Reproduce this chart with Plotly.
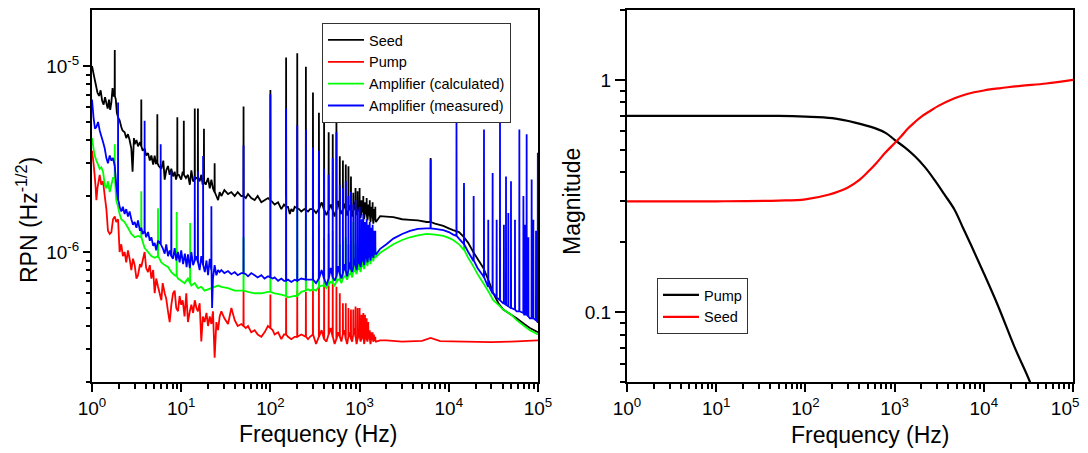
import plotly.graph_objects as go
import numpy as np

# ---------------- LEFT PANEL DATA (frequency in Hz, RPN in units of 1e-6 Hz^-1/2) ----------------
mains_f = [50, 100, 150, 200, 250, 300, 350, 400, 450, 500, 550, 600, 650, 700, 750,
           800, 850, 900, 950, 1000, 1050, 1100, 1150, 1200, 1250, 1300, 1350, 1400, 1450, 1500]
mid_f = [325, 375, 425, 475, 525, 575, 625, 675, 725, 775, 825, 875, 925, 975, 1025,
         1075, 1125, 1175, 1225, 1275, 1325, 1375, 1425, 1475, 1525]

# Seed (black)
seed_f = [1.00, 1.05, 1.10, 1.15, 1.20, 1.25, 1.30, 1.35, 1.40, 1.45, 1.50, 1.55, 1.60, 1.65, 1.70, 1.75,
          1.85, 1.90, 1.96, 2.04, 2.13, 2.20, 2.32, 2.42, 2.53, 2.64, 2.76, 2.85, 2.95, 3.01, 3.15, 3.28,
          3.45, 3.70, 3.89, 4.05, 4.25, 4.45, 4.63, 4.85, 5.04, 5.20, 5.60, 5.99, 6.30, 6.53, 6.80, 7.11,
          7.43, 7.75, 8.10, 8.45, 8.75, 9.40, 10.0, 10.4, 11.3, 11.9, 12.5, 13.0, 13.6, 14.8, 16.1, 16.8,
          17.4, 18.8, 20.0, 20.9, 21.8, 22.7, 24.8, 25.9, 27.0, 28.2, 30.5, 33.5, 36.5, 39.8, 43.0, 47.2,
          53.0, 56.1, 61.0, 66.6, 72.0, 79.1, 86.0, 94.0, 106, 111.6, 122, 132.6, 142, 157.5, 165, 171.7,
          180, 187.1, 210, 222, 240, 264, 278, 1700, 2000,
          2388, 3000, 3672, 4500, 5647, 7000, 8683, 10000, 11200, 13000, 14600, 16500, 18800, 21000,
          24400, 28000, 31500, 36000, 40800, 50000, 57600, 70000, 81000, 100000]
seed_v = [10.0, 8.9, 8.0, 7.2, 6.9, 7.4, 6.5, 6.2, 6.8, 6.3, 5.9, 6.6, 5.8, 6.4, 7.6, 6.9,
          6.6, 5.6, 5.3, 5.1, 4.7, 4.5, 4.4, 4.1, 4.3, 4.0, 3.6, 2.7, 4.1, 3.8, 4.0, 3.7,
          3.9, 3.5, 3.6, 3.3, 3.4, 3.1, 3.3, 2.95, 3.3, 3.0, 2.9, 2.8, 3.1, 2.45, 2.75, 2.9,
          2.6, 2.8, 2.55, 2.7, 2.45, 2.6, 2.45, 2.7, 2.5, 2.6, 2.3, 2.75, 2.4, 2.5, 2.4, 2.6,
          2.3, 2.3, 2.5, 2.2, 2.45, 2.2, 2.0, 1.9, 2.1, 2.0, 2.15, 2.05, 2.1, 2.0, 2.1, 2.0,
          1.95, 2.05, 1.95, 1.9, 2.0, 1.85, 1.9, 1.95, 1.85, 1.8, 1.85, 1.7, 1.8, 1.75, 1.6, 1.7,
          1.65, 1.75, 1.7, 1.65, 1.7, 1.65, 1.7, 1.56, 1.55,
          1.54, 1.50, 1.49, 1.48, 1.45, 1.42, 1.38, 1.34, 1.31, 1.28, 1.21, 1.12, 1.00, 0.92,
          0.82, 0.70, 0.60, 0.53, 0.49, 0.46, 0.44, 0.41, 0.39, 0.37]
seed_mid_v = [1.62, 1.85, 1.58, 1.80, 1.55, 1.88, 1.60, 1.82, 1.57, 1.78, 1.55, 1.85, 1.58, 1.75, 1.52,
              1.82, 1.50, 1.72, 1.48, 1.70, 1.45, 1.68, 1.42, 1.62, 1.45]
seed_mains_lo = [2.0, 1.9, 1.75, 1.72, 1.68, 1.7, 1.7, 1.69, 1.68, 1.68, 1.68, 1.69, 1.7, 1.69, 1.67,
                 1.67, 1.68, 1.68, 1.67, 1.65, 1.64, 1.63, 1.62, 1.6, 1.59, 1.58, 1.57, 1.55, 1.54, 1.5]
seed_mains_hi = [6.05, 7.42, 11.1, 11.7, 9.9, 7.2, 5.6, 5.5, 4.4, 4.3, 5.6, 3.27, 3.1, 2.95, 2.89,
                 2.55, 2.08, 2.21, 2.12, 2.21, 1.9, 2.0, 1.85, 1.95, 1.8, 1.9, 1.75, 1.85, 1.7, 1.75]
seed_spk_f = [1.8, 3.57, 5.4, 9.05, 10.7, 14.2, 15.4, 18.0, 23.7, 6260]
seed_spk_lo = [6.9, 3.7, 3.0, 2.6, 2.6, 2.45, 2.5, 2.4, 2.1, 1.45]
seed_spk_hi = [12.2, 6.6, 5.5, 5.3, 5.07, 5.9, 5.9, 4.6, 3.0, 3.2]

# Pump (red)
pump_f = [1.00, 1.04, 1.07, 1.10, 1.12, 1.15, 1.22, 1.27, 1.33, 1.39, 1.45, 1.51, 1.58, 1.65, 1.72, 1.80,
          1.87, 1.96, 2.04, 2.13, 2.22, 2.32, 2.42, 2.53, 2.64, 2.76, 2.88, 3.01, 3.15, 3.28, 3.45, 3.57,
          3.70, 3.89, 4.05, 4.25, 4.45, 4.63, 4.85, 5.04, 5.25, 5.50, 5.99, 6.20, 6.53, 6.80, 7.11, 7.43,
          7.75, 8.10, 8.45, 8.80, 9.21, 9.60, 10.0, 10.4, 10.9, 11.4, 11.9, 12.5, 13.0, 13.6, 14.2, 14.8,
          15.4, 16.1, 16.8, 17.5, 18.3, 19.2, 20.0, 20.9, 21.8, 22.7, 23.7, 24.8, 25.9, 27.0, 28.2, 30.5,
          33.5, 36.5, 39.8, 43.0, 47.2, 53.0, 56.1, 61.0, 66.6, 72.0, 79.1, 86.0, 94.0, 106, 111.6, 122,
          132.6, 142, 157.5, 171.7, 187.1, 222, 264, 278,
          1700, 2000, 3000, 5000, 6260, 8000, 15000, 30000, 50000, 100000]
pump_v = [3.5, 3.0, 2.6, 2.2, 1.9, 2.2, 2.6, 2.3, 2.4, 2.0, 1.7, 1.3, 1.25, 1.28, 1.5, 1.55,
          1.45, 1.5, 1.0, 1.1, 0.95, 1.0, 0.88, 1.02, 0.92, 0.8, 0.92, 0.85, 0.72, 0.75, 0.86, 0.83,
          0.9, 1.0, 0.82, 0.78, 0.85, 0.72, 0.8, 0.6, 0.72, 0.65, 0.55, 0.68, 0.6, 0.56, 0.48, 0.42,
          0.52, 0.6, 0.62, 0.5, 0.48, 0.58, 0.52, 0.55, 0.45, 0.6, 0.42, 0.48, 0.52, 0.47, 0.55, 0.5,
          0.48, 0.53, 0.33, 0.45, 0.42, 0.47, 0.40, 0.45, 0.41, 0.48, 0.27, 0.42, 0.38, 0.45, 0.48, 0.44,
          0.41, 0.5, 0.43, 0.40, 0.41, 0.39, 0.40, 0.37, 0.38, 0.36, 0.35, 0.37, 0.40, 0.38, 0.36, 0.37,
          0.34, 0.36, 0.35, 0.34, 0.35, 0.36, 0.34, 0.35,
          0.335, 0.335, 0.33, 0.333, 0.345, 0.332, 0.33, 0.328, 0.33, 0.335]
pump_mid_v = [0.32, 0.38, 0.33, 0.39, 0.32, 0.37, 0.33, 0.38, 0.32, 0.37, 0.33, 0.39, 0.32, 0.37, 0.33,
              0.38, 0.32, 0.36, 0.33, 0.37, 0.32, 0.36, 0.33, 0.35, 0.33]
pump_mains_lo = [0.40, 0.39, 0.36, 0.35, 0.35, 0.36, 0.35, 0.34, 0.36, 0.35, 0.34, 0.35, 0.36, 0.34, 0.35,
                 0.34, 0.36, 0.35, 0.34, 0.35, 0.34, 0.35, 0.34, 0.34, 0.35, 0.34, 0.34, 0.34, 0.335, 0.335]
pump_mains_hi = [0.62, 0.59, 0.57, 0.62, 0.61, 0.62, 0.68, 0.68, 0.66, 0.68, 0.65, 0.60, 0.53, 0.53, 0.50,
                 0.49, 0.49, 0.51, 0.50, 0.50, 0.46, 0.47, 0.46, 0.44, 0.42, 0.38, 0.37, 0.37, 0.36, 0.35]

# Amplifier (calculated) (green)
calc_f = [1.00, 1.04, 1.07, 1.12, 1.17, 1.22, 1.27, 1.33, 1.39, 1.45, 1.51, 1.58, 1.65, 1.72, 1.87, 1.96,
          2.04, 2.13, 2.32, 2.53, 2.76, 3.01, 3.28, 3.89, 4.25, 4.63, 5.04, 5.99, 6.53, 7.11, 7.75, 8.45,
          9.21, 10.0, 10.9, 11.9, 13.0, 14.2, 15.4, 16.8, 18.3, 20.0, 21.8, 23.7, 25.9, 28.2, 33.5, 39.8,
          47.2, 56.1, 66.6, 79.1, 94.0, 111.6, 132.6, 157.5, 187.1, 222, 264, 278,
          1700, 2000, 2388, 3000, 3672, 4500, 5647, 7000, 8683, 10000, 11200,
          13000, 14600, 16500, 18800, 21000, 24400, 28000, 31500, 36000, 40800, 50000, 57600, 70000,
          81000, 100000]
calc_v = [4.1, 3.6, 3.3, 3.1, 2.95, 2.8, 2.85, 2.7, 2.3, 2.2, 2.4, 2.1, 2.3, 2.5, 1.9, 1.75,
          1.6, 1.5, 1.45, 1.35, 1.25, 1.2, 1.22, 1.05, 1.0, 0.95, 0.93, 0.88, 0.85, 0.83, 0.78, 0.75,
          0.72, 0.70, 0.68, 0.72, 0.66, 0.68, 0.64, 0.65, 0.62, 0.63, 0.64, 0.65, 0.66, 0.65, 0.64, 0.62,
          0.62, 0.61, 0.60, 0.60, 0.61, 0.60, 0.59, 0.57, 0.58, 0.61, 0.63, 0.62,
          0.99, 1.04, 1.10, 1.16, 1.20, 1.23, 1.25, 1.24, 1.22, 1.19, 1.16,
          1.10, 1.03, 0.93, 0.84, 0.76, 0.68, 0.61, 0.55, 0.52, 0.49, 0.46, 0.43, 0.40,
          0.38, 0.36]
calc_mid_v = [0.62, 0.66, 0.64, 0.69, 0.66, 0.71, 0.68, 0.74, 0.71, 0.76, 0.73, 0.79, 0.76, 0.81, 0.78,
              0.84, 0.81, 0.86, 0.84, 0.89, 0.86, 0.91, 0.89, 0.93, 0.94]
calc_mains_lo = [0.62, 0.61, 0.58, 0.58, 0.62, 0.63, 0.65, 0.66, 0.67, 0.68, 0.69, 0.71, 0.72, 0.74, 0.75,
                 0.76, 0.78, 0.79, 0.81, 0.82, 0.83, 0.85, 0.86, 0.88, 0.89, 0.90, 0.91, 0.93, 0.94, 0.95]
calc_mains_hi = [1.2, 2.5, 2.0, 1.7, 1.6, 1.3, 1.4, 1.2, 1.25, 1.3, 1.8, 1.1, 1.15, 1.2, 1.1,
                 1.15, 1.45, 1.1, 1.05, 1.1, 1.05, 1.05, 1.05, 1.05, 1.05, 1.05, 1.05, 1.05, 1.05, 1.05]
calc_spk_f = [1.8, 3.57, 5.5, 8.9, 12.6, 14800]
calc_spk_lo = [2.5, 1.2, 0.95, 0.74, 0.68, 1.03]
calc_spk_hi = [3.79, 2.12, 1.72, 1.64, 1.43, 2.25]

# Amplifier (measured) (blue)
meas_f = [1.00, 1.04, 1.08, 1.12, 1.17, 1.22, 1.27, 1.33, 1.39, 1.45, 1.51, 1.58, 1.65, 1.72, 1.80, 1.87,
          1.93, 2.00, 2.04, 2.13, 2.22, 2.32, 2.42, 2.53, 2.64, 2.76, 2.88, 3.01, 3.15, 3.28, 3.45, 3.57,
          3.70, 4.05, 4.25, 4.45, 4.63, 4.85, 5.04, 5.25, 5.50, 6.20, 6.53, 6.80, 7.11, 7.43, 8.10, 8.45,
          8.80, 9.20, 9.60, 10.0, 10.5, 11.0, 11.5, 11.9, 12.5, 13.0, 13.6, 14.8, 16.1, 16.8, 18.4, 19.2,
          20.0, 20.9, 22.2, 22.7, 23.7, 24.8, 25.9, 27.0, 28.2, 30.5, 33.5, 36.5, 39.8, 43.0, 47.2, 53.0,
          56.1, 61.0, 66.6, 72.0, 79.1, 86.0, 94.0, 106, 111.6, 122, 132.6, 142, 157.5, 171.7, 187.1, 222,
          264, 278, 1700, 2000, 2388, 3000, 3672, 4500, 5647,
          7000, 8683, 10000, 11200, 13000, 14600, 16500, 18800, 21000, 24400, 28000, 31500, 36000, 40800,
          50000, 57600, 70000, 81000, 100000]
meas_v = [6.6, 5.3, 4.6, 4.7, 5.0, 4.5, 4.2, 3.9, 3.6, 3.2, 3.0, 3.3, 3.1, 3.2, 2.9, 2.3,
          2.0, 1.85, 1.75, 1.65, 1.75, 1.6, 1.7, 1.55, 1.65, 1.5, 1.4, 1.45, 1.35, 1.48, 1.3, 1.35,
          1.25, 1.2, 1.28, 1.15, 1.2, 1.08, 1.12, 1.02, 1.15, 1.05, 0.98, 1.1, 0.95, 1.02, 0.92, 1.05,
          0.9, 1.0, 0.88, 1.02, 0.86, 0.98, 0.83, 0.97, 0.82, 1.0, 0.85, 0.95, 0.8, 0.95, 0.78, 0.9,
          0.75, 0.92, 0.5, 0.72, 0.85, 0.75, 0.8, 0.78, 0.8, 0.77, 0.79, 0.76, 0.78, 0.75, 0.77, 0.76,
          0.74, 0.77, 0.75, 0.73, 0.75, 0.72, 0.74, 0.72, 0.73, 0.70, 0.72, 0.70, 0.71, 0.69, 0.71, 0.72,
          0.71, 0.71, 1.04, 1.10, 1.18, 1.25, 1.30, 1.33, 1.34,
          1.33, 1.31, 1.28, 1.24, 1.18, 1.11, 1.00, 0.90, 0.82, 0.74, 0.66, 0.60, 0.56, 0.53,
          0.50, 0.48, 0.46, 0.44, 0.42]
meas_mid_v = [0.68, 0.80, 0.66, 0.82, 0.70, 0.84, 0.72, 0.86, 0.74, 0.88, 0.78, 0.92, 0.80, 0.93, 0.83,
              0.96, 0.85, 0.98, 0.88, 1.00, 0.90, 1.02, 0.93, 1.04, 0.97]
meas_mains_lo = [0.77, 0.73, 0.70, 0.70, 0.71, 0.71, 0.72, 0.72, 0.72, 0.73, 0.74, 0.76, 0.77, 0.79, 0.80,
                 0.81, 0.83, 0.85, 0.86, 0.87, 0.89, 0.90, 0.92, 0.93, 0.94, 0.95, 0.96, 0.97, 0.98, 0.99]
meas_mains_hi = [3.74, 7.05, 5.9, 4.8, 4.56, 3.65, 3.5, 2.8, 2.6, 3.2, 4.4, 2.3, 2.2, 2.4, 2.0,
                 2.1, 1.8, 1.9, 1.7, 1.75, 1.5, 1.6, 1.45, 1.5, 1.4, 1.45, 1.35, 1.4, 1.3, 1.3]
meas_spk_f = [1.96, 3.89, 5.89, 7.75, 14.2, 15.4, 17.6, 21.8, 6260, 12200, 14800, 19000, 24800, 27700,
              31000, 34400, 37500, 41500, 43800, 46500, 49800, 55200, 61800, 68600, 71500, 74600, 78000,
              84900, 88700, 95000, 99500]
meas_spk_lo = [1.9, 1.3, 1.1, 0.95, 0.9, 0.88, 0.85, 0.8, 1.34, 1.22, 1.1, 0.9, 0.73, 0.65, 0.6, 0.57,
               0.55, 0.53, 0.52, 0.51, 0.5, 0.49, 0.48, 0.47, 0.46, 0.46, 0.45, 0.44, 0.44, 0.43, 0.42]
meas_spk_hi = [6.36, 5.07, 3.79, 2.72, 2.55, 2.72, 3.28, 1.76, 3.14, 5.5, 2.35, 2.0, 4.56, 1.49, 2.66,
               1.49, 5.74, 1.4, 2.55, 1.62, 2.4, 1.49, 4.56, 2.0, 1.4, 4.29, 1.2, 2.45, 1.49, 1.3, 3.42]

# ---------------- RIGHT PANEL DATA (magnitude) ----------------
tf_pump_f = [1, 10, 50, 100, 200, 360, 600, 800, 1000, 1300, 1700, 2200, 2800, 3600, 4700, 5800, 7300,
             10000, 14500, 22000, 32600, 36000]
tf_pump_v = [0.70, 0.70, 0.70, 0.695, 0.684, 0.655, 0.62, 0.59, 0.552, 0.512, 0.468, 0.42, 0.371, 0.322,
             0.276, 0.232, 0.192, 0.147, 0.106, 0.071, 0.0505, 0.045]
tf_seed_f = [1, 10, 50, 100, 181, 300, 400, 507, 630, 780, 1000, 1200, 1420, 1700, 2000, 2500, 3100, 4700,
             6500, 10000, 15000, 26000, 50000, 100000]
tf_seed_v = [0.30, 0.30, 0.302, 0.306, 0.32, 0.344, 0.37, 0.403, 0.44, 0.484, 0.534, 0.575, 0.619, 0.66,
             0.695, 0.735, 0.773, 0.834, 0.87, 0.90, 0.92, 0.942, 0.965, 1.0]

x_ticks = [1, 10, 100, 1000, 10000, 100000]
x_ticktext = ["10<sup>0</sup>", "10<sup>1</sup>", "10<sup>2</sup>", "10<sup>3</sup>", "10<sup>4</sup>", "10<sup>5</sup>"]
x2_ticktext = ["10<sup>0</sup>", "10<sup>1</sup>", "10<sup>2</sup>", "10<sup>3</sup>", "10<sup>4</sup>",
               "10<sup>5</sup>\u00a0\u00a0\u00a0"]
y1_ticks = [1e-6, 1e-5]
y1_ticktext = ["10<sup>-6</sup>", "10<sup>-5</sup>"]
y2_ticks = [0.1, 1]
y2_ticktext = ["0.1", "1"]


def build(bf, bv, mids, groups):
    pts = list(zip(bf, bv)) + list(zip(mid_f, mids))
    for fs, los, his in groups:
        for f, lo, hi in zip(fs, los, his):
            pts += [(f * 0.997, lo), (f, hi), (f * 1.003, lo)]
    pts.sort(key=lambda p: p[0])
    return [p[0] for p in pts], [p[1] * 1e-6 for p in pts]


# page is drawn with an 8px body margin: work in page pixels, convert to figure paper coords
W, H, OFF = 1072, 445, 8
def px(x):
    return (x - OFF) / W
def py(y):
    return 1 - (y - OFF) / H

FONT = "Liberation Sans, Arial, sans-serif"
fig = go.Figure()

series = [
    ("Seed", "#000000", build(seed_f, seed_v, seed_mid_v, [(mains_f, seed_mains_lo, seed_mains_hi), (seed_spk_f, seed_spk_lo, seed_spk_hi)])),
    ("Pump", "#ff0000", build(pump_f, pump_v, pump_mid_v, [(mains_f, pump_mains_lo, pump_mains_hi)])),
    ("Amplifier (calculated)", "#00ff00", build(calc_f, calc_v, calc_mid_v, [(mains_f, calc_mains_lo, calc_mains_hi), (calc_spk_f, calc_spk_lo, calc_spk_hi)])),
    ("Amplifier (measured)", "#0000ff", build(meas_f, meas_v, meas_mid_v, [(mains_f, meas_mains_lo, meas_mains_hi), (meas_spk_f, meas_spk_lo, meas_spk_hi)])),
]
for name, col, (xs, ys) in series:
    fig.add_trace(go.Scatter(x=xs, y=ys, mode="lines", name=name,
                             line=dict(color=col, width=1.8, simplify=False),
                             xaxis="x", yaxis="y", legend="legend"))

fig.add_trace(go.Scatter(x=tf_pump_f, y=tf_pump_v, mode="lines", name="Pump",
                         line=dict(color="#000000", width=2.2, shape="spline"),
                         xaxis="x2", yaxis="y2", legend="legend2"))
fig.add_trace(go.Scatter(x=tf_seed_f, y=tf_seed_v, mode="lines", name="Seed",
                         line=dict(color="#ff0000", width=2.2, shape="spline"),
                         xaxis="x2", yaxis="y2", legend="legend2"))

def minor_vals(lo_exp, hi_exp):
    return [m * 10.0 ** e for e in range(lo_exp, hi_exp) for m in range(2, 10)]

common = dict(showline=True, linecolor="black", linewidth=2, mirror=True, showgrid=False,
              zeroline=False, ticks="outside", tickcolor="black", tickwidth=1.5, automargin=False,
              ticklabeloverflow="allow",
              tickfont=dict(family=FONT, size=19, color="black"))

x_common = dict(common, type="log", range=[0, 5], tickmode="array", tickvals=x_ticks,
                ticklen=8,
                minor=dict(tickmode="array", tickvals=minor_vals(0, 5), ticks="outside",
                           ticklen=4.5, tickwidth=1.5, tickcolor="black", showgrid=False))

fig.update_layout(
    width=W, height=H,
    margin=dict(l=0, r=0, t=0, b=0, autoexpand=False),
    paper_bgcolor="white", plot_bgcolor="white",
    font=dict(family=FONT, color="black"),
    xaxis=dict(x_common, ticktext=x_ticktext, domain=[px(92), px(538)], anchor="y"),
    xaxis2=dict(x_common, ticktext=x2_ticktext, domain=[px(627), px(1073)], anchor="y2"),
    yaxis=dict(common, type="log", domain=[py(382), py(10)], anchor="x",
               range=[np.log10(2e-7), np.log10(2e-5)], tickmode="array",
               tickvals=y1_ticks, ticktext=y1_ticktext, ticklen=7,
               minor=dict(tickmode="array", tickvals=minor_vals(-7, -5), ticks="outside",
                          ticklen=4, tickwidth=1.5, tickcolor="black", showgrid=False)),
    yaxis2=dict(common, type="log", domain=[py(382), py(10)], anchor="x2",
                range=[np.log10(0.05), np.log10(2)], tickmode="array",
                tickvals=y2_ticks, ticktext=y2_ticktext, ticklen=10,
                minor=dict(tickmode="array", tickvals=minor_vals(-2, 1), ticks="outside",
                           ticklen=5.5, tickwidth=1.5, tickcolor="black", showgrid=False)),
    legend=dict(x=px(322), y=py(23), xanchor="left", yanchor="top",
                bgcolor="white", bordercolor="#333333", borderwidth=1, itemwidth=36,
                font=dict(family=FONT, size=14.5, color="black"), tracegroupgap=0),
    legend2=dict(x=px(657), y=py(278), xanchor="left", yanchor="top",
                 bgcolor="white", bordercolor="#333333", borderwidth=1, itemwidth=36,
                 font=dict(family=FONT, size=14.5, color="black")),
    annotations=[
        dict(text="RPN (Hz<sup>-1/2</sup>)", x=px(27), y=py(220), xref="paper", yref="paper",
             textangle=-90, showarrow=False, xanchor="center", yanchor="middle",
             font=dict(family=FONT, size=23, color="black")),
        dict(text="Magnitude", x=px(572), y=py(202), xref="paper", yref="paper",
             textangle=-90, showarrow=False, xanchor="center", yanchor="middle",
             font=dict(family=FONT, size=23, color="black")),
        dict(text="Frequency (Hz)", x=px(318), y=py(434), xref="paper", yref="paper",
             showarrow=False, xanchor="center", yanchor="middle",
             font=dict(family=FONT, size=23, color="black")),
        dict(text="Frequency (Hz)", x=px(870), y=py(435), xref="paper", yref="paper",
             showarrow=False, xanchor="center", yanchor="middle",
             font=dict(family=FONT, size=23, color="black")),
    ],
)

fig.write_html("out.html")
